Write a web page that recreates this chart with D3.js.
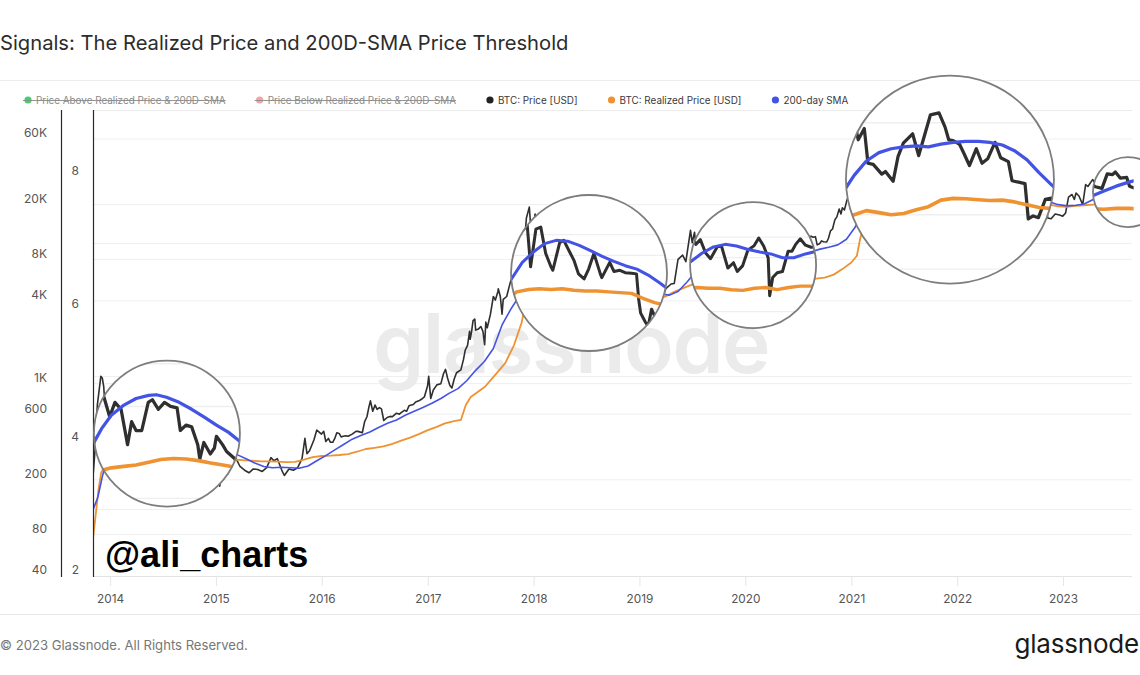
<!DOCTYPE html>
<html><head><meta charset="utf-8">
<script src="https://cdn.jsdelivr.net/npm/d3@7"></script>
<style>
html,body{margin:0;padding:0;background:#fff;}
svg{display:block;font-family:Inter,"Noto Sans",sans-serif;}
</style></head><body>
<svg id="chart" width="1140" height="675"></svg>
<script>
// ---------------- DATA ----------------
const priceData = [
["2013-11-03",210],["2013-11-10",330],["2013-11-18",700],["2013-11-30",1130],["2013-12-05",1100],["2013-12-10",950],["2013-12-18",520],["2013-12-25",680],
["2014-01-05",950],["2014-01-15",850],["2014-01-31",800],["2014-02-10",680],["2014-02-25",530],["2014-03-10",630],["2014-03-25",580],["2014-04-10",380],["2014-04-20",500],["2014-05-01",450],["2014-05-15",450],["2014-05-31",630],["2014-06-10",650],["2014-06-25",580],["2014-07-10",630],["2014-07-25",600],["2014-08-10",590],["2014-08-18",450],["2014-09-01",480],["2014-09-15",470],["2014-09-30",380],["2014-10-05",320],["2014-10-15",390],["2014-10-31",340],["2014-11-10",365],["2014-11-15",420],["2014-11-30",380],["2014-12-10",350],["2014-12-31",320],
["2015-01-05",275],["2015-01-14",180],["2015-01-20",210],["2015-01-31",225],["2015-02-10",220],["2015-02-20",245],["2015-03-10",290],["2015-03-25",250],["2015-04-10",235],["2015-04-25",225],["2015-05-10",240],["2015-05-25",238],["2015-06-10",230],["2015-06-25",245],["2015-07-10",290],["2015-07-20",275],["2015-08-01",285],["2015-08-18",230],["2015-08-25",215],["2015-09-10",240],["2015-09-25",235],["2015-10-10",245],["2015-10-25",285],["2015-11-04",400],["2015-11-11",310],["2015-11-20",325],["2015-12-05",390],["2015-12-15",460],["2015-12-31",430],
["2016-01-08",450],["2016-01-15",380],["2016-01-24",400],["2016-01-31",375],["2016-02-08",375],["2016-02-15",400],["2016-02-22",440],["2016-03-01",435],["2016-03-08",410],["2016-03-15",415],["2016-03-24",418],["2016-04-01",415],["2016-04-15",430],["2016-04-28",450],["2016-05-05",450],["2016-05-20",440],["2016-05-28",530],["2016-06-05",575],["2016-06-12",680],["2016-06-17",750],["2016-06-25",630],["2016-07-03",700],["2016-07-10",650],["2016-07-18",670],["2016-07-25",655],["2016-08-02",540],["2016-08-15",570],["2016-08-25",578],["2016-09-01",575],["2016-09-15",610],["2016-09-25",600],["2016-10-01",615],["2016-10-12",640],["2016-10-20",630],["2016-10-28",690],["2016-11-05",700],["2016-11-12",705],["2016-11-20",735],["2016-12-01",750],["2016-12-10",770],["2016-12-20",800],["2016-12-31",960],
["2017-01-04",1130],["2017-01-11",780],["2017-01-20",900],["2017-02-01",980],["2017-02-15",1000],["2017-02-24",1180],["2017-03-03",1270],["2017-03-10",1100],["2017-03-18",970],["2017-03-25",930],["2017-04-02",1080],["2017-04-10",1200],["2017-04-25",1260],["2017-05-04",1500],["2017-05-10",1750],["2017-05-18",1900],["2017-05-25",2400],["2017-05-27",2100],["2017-06-01",2400],["2017-06-06",2870],["2017-06-12",2950],["2017-06-15",2450],["2017-06-25",2500],["2017-07-03",2600],["2017-07-10",2400],["2017-07-16",1920],["2017-07-20",2800],["2017-07-25",2550],["2017-08-05",3200],["2017-08-15",4300],["2017-08-22",4050],["2017-08-31",4700],["2017-09-01",4900],["2017-09-08",4300],["2017-09-14",3200],["2017-09-18",4100],["2017-09-30",4300],["2017-10-12",5400],["2017-10-20",6000],["2017-11-01",6700],["2017-11-08",7400],["2017-11-12",5900],["2017-11-20",8000],["2017-11-29",9900],["2017-12-07",16000],["2017-12-17",19200],["2017-12-22",13800],["2017-12-31",13800],
["2018-01-06",17100],["2018-01-16",11000],["2018-01-28",11800],["2018-02-06",6900],["2018-02-20",11200],["2018-03-05",11500],["2018-03-18",8200],["2018-04-01",6900],["2018-04-06",6600],["2018-04-24",9400],["2018-05-05",9700],["2018-05-20",8400],["2018-06-01",7500],["2018-06-13",6300],["2018-06-28",5900],["2018-07-10",6700],["2018-07-24",8200],["2018-08-10",6300],["2018-08-14",6000],["2018-09-04",7300],["2018-09-15",6500],["2018-10-01",6600],["2018-10-15",6400],["2018-11-01",6350],["2018-11-14",6300],["2018-11-20",4500],["2018-11-25",3800],["2018-12-07",3400],["2018-12-15",3200],["2018-12-24",4000],["2018-12-31",3700],
["2019-01-15",3600],["2019-02-01",3450],["2019-02-15",3600],["2019-03-01",3800],["2019-03-15",3900],["2019-04-02",4900],["2019-04-20",5300],["2019-05-01",5350],["2019-05-14",8000],["2019-05-30",8600],["2019-06-10",7700],["2019-06-26",13000],["2019-07-02",10600],["2019-07-10",12600],["2019-07-16",9400],["2019-08-01",10400],["2019-08-06",11800],["2019-08-29",9500],["2019-09-10",10100],["2019-09-24",8500],["2019-10-07",7900],["2019-10-25",9200],["2019-11-05",9300],["2019-11-22",7000],["2019-12-07",7500],["2019-12-17",6700],["2019-12-31",7200],
["2020-01-14",8800],["2020-01-31",9350],["2020-02-12",10300],["2020-02-25",9300],["2020-03-08",8000],["2020-03-12",4900],["2020-03-20",6200],["2020-04-01",6600],["2020-04-15",6700],["2020-04-30",8700],["2020-05-10",8700],["2020-05-20",9500],["2020-06-01",10200],["2020-06-15",9400],["2020-06-30",9150],["2020-07-15",9200],["2020-07-28",11000],["2020-08-08",11600],["2020-08-15",11800],["2020-08-22",11600],["2020-08-30",11700],["2020-09-05",10200],["2020-09-13",10400],["2020-09-20",10900],["2020-09-27",10750],["2020-10-08",10700],["2020-10-14",11400],["2020-10-21",12900],["2020-10-28",13300],["2020-11-05",15500],["2020-11-12",16300],["2020-11-20",18600],["2020-11-26",17100],["2020-12-01",19000],["2020-12-08",18300],["2020-12-16",21300],["2020-12-24",23700],["2020-12-31",29000],
["2021-01-08",40500],["2021-01-22",31500],["2021-02-01",34000],["2021-02-10",45000],["2021-02-21",57500],["2021-02-28",45200],["2021-03-13",61000],["2021-03-25",52000],["2021-04-14",63500],["2021-04-25",49000],["2021-05-10",56000],["2021-05-19",37000],["2021-06-01",36500],["2021-06-22",32500],["2021-07-01",33500],["2021-07-20",29800],["2021-08-01",40000],["2021-08-14",47000],["2021-09-06",52600],["2021-09-21",40500],["2021-10-01",48000],["2021-10-20",66000],["2021-11-10",67500],["2021-11-25",57000],["2021-12-04",49000],["2021-12-15",48500],["2021-12-31",46300],
["2022-01-10",41800],["2022-01-24",36000],["2022-02-10",44000],["2022-02-24",37000],["2022-03-10",39000],["2022-03-28",47500],["2022-04-11",39500],["2022-04-30",37700],["2022-05-09",30000],["2022-05-25",29500],["2022-06-10",29000],["2022-06-18",19000],["2022-06-30",19700],["2022-07-13",19300],["2022-07-30",24000],["2022-08-14",24400],["2022-08-31",20000],["2022-09-12",22400],["2022-09-20",19000],["2022-10-10",19300],["2022-10-26",20800],["2022-11-05",21300],["2022-11-09",16000],["2022-11-21",15800],["2022-12-05",17100],["2022-12-20",16800],["2022-12-31",16500],
["2023-01-10",17400],["2023-01-20",22700],["2023-02-01",23700],["2023-02-09",21800],["2023-02-15",24300],["2023-02-25",23100],["2023-03-10",20000],["2023-03-20",28000],["2023-03-28",27100],["2023-04-13",30400],["2023-04-25",28300],["2023-05-10",27600],["2023-05-25",26300],["2023-06-10",25800],["2023-06-23",30700],["2023-07-06",30400],["2023-07-13",31400],["2023-07-25",29200],["2023-08-10",29400],["2023-08-17",26500],["2023-08-27",26000]
];
const realizedData = [
["2013-11-03",75],["2013-11-12",110],["2013-11-22",170],["2013-12-01",225],["2013-12-12",250],["2014-01-01",262],["2014-02-01",278],["2014-03-01",288],["2014-04-01",293],["2014-05-01",298],["2014-06-01",308],["2014-07-01",318],["2014-08-01",322],["2014-09-01",320],["2014-10-01",314],["2014-11-01",305],["2014-12-01",298],
["2015-01-01",290],["2015-02-01",284],["2015-03-01",281],["2015-04-01",278],["2015-05-01",276],["2015-06-01",273],["2015-07-01",272],["2015-08-01",271],["2015-09-01",269],["2015-10-01",270],["2015-11-01",280],["2015-12-01",292],
["2016-01-01",298],["2016-02-01",300],["2016-03-01",303],["2016-04-01",308],["2016-05-01",320],["2016-06-01",335],["2016-07-01",342],["2016-08-01",350],["2016-09-01",365],["2016-10-01",385],["2016-11-01",405],["2016-12-01",430],
["2017-01-01",460],["2017-02-01",485],["2017-03-01",515],["2017-04-01",535],["2017-04-25",545],["2017-05-12",700],["2017-05-29",800],["2017-07-17",950],["2017-08-20",1150],["2017-09-25",1410],["2017-10-25",1900],["2017-11-20",2750],["2017-12-14",4700],["2017-12-31",5000],
["2018-02-01",5150],["2018-03-01",5200],["2018-04-01",5150],["2018-05-01",5200],["2018-06-01",5100],["2018-07-01",5050],["2018-08-01",5050],["2018-09-01",5000],["2018-10-01",4950],["2018-11-01",4900],["2018-12-01",4600],
["2019-01-01",4350],["2019-02-01",4200],["2019-03-01",4180],["2019-04-01",4300],["2019-05-01",4650],["2019-06-01",4950],["2019-07-01",5250],["2019-08-01",5400],["2019-09-01",5450],["2019-10-01",5400],["2019-11-01",5400],["2019-12-01",5300],
["2020-01-01",5250],["2020-02-01",5400],["2020-03-01",5450],["2020-04-01",5300],["2020-05-01",5450],["2020-06-01",5550],["2020-07-01",5550],["2020-08-01",5750],["2020-09-01",5800],["2020-10-01",5900],["2020-11-01",6200],["2020-12-01",6800],
["2021-01-01",7600],["2021-01-20",8500],["2021-02-01",11500],["2021-02-20",15500],["2021-03-15",18500],["2021-04-15",20000],["2021-05-15",21000],["2021-06-15",20500],["2021-07-15",20000],["2021-08-15",20300],["2021-09-15",21200],["2021-10-15",22000],["2021-11-15",23800],["2021-12-15",24300],
["2022-01-15",24200],["2022-02-15",23900],["2022-03-15",23700],["2022-04-15",23800],["2022-05-15",23300],["2022-06-15",22500],["2022-07-15",21800],["2022-08-15",21500],["2022-09-15",21100],["2022-10-15",20700],["2022-11-15",20000],["2022-12-15",19400],
["2023-01-15",19300],["2023-02-15",19600],["2023-03-15",19800],["2023-04-15",20000],["2023-05-15",20200],["2023-06-15",20100],["2023-07-15",20300],["2023-08-15",20300],["2023-08-27",20250]
];
const smaData = [
["2013-11-03",121],["2013-11-20",150],["2013-12-05",210],["2013-12-20",280],["2014-01-05",340],["2014-01-20",400],["2014-02-05",460],["2014-03-01",540],["2014-04-01",610],["2014-05-01",660],["2014-06-01",685],["2014-06-20",690],["2014-07-15",670],["2014-08-15",630],["2014-09-15",580],["2014-10-15",530],["2014-11-15",480],["2014-12-15",440],
["2015-01-15",390],["2015-02-15",340],["2015-03-15",305],["2015-04-15",285],["2015-05-15",265],["2015-06-15",250],["2015-07-15",245],["2015-08-15",247],["2015-09-15",245],["2015-10-15",243],["2015-11-15",252],["2015-12-15",275],
["2016-01-15",300],["2016-02-15",330],["2016-03-15",360],["2016-04-15",395],["2016-05-15",420],["2016-06-15",445],["2016-07-15",480],["2016-08-15",515],["2016-09-15",545],["2016-10-15",590],["2016-11-15",630],["2016-12-15",670],
["2017-01-15",720],["2017-02-15",780],["2017-03-15",850],["2017-04-15",920],["2017-05-15",1050],["2017-06-15",1250],["2017-07-15",1450],["2017-08-15",1800],["2017-09-15",2700],["2017-10-15",3500],["2017-11-15",4400],["2017-12-15",5800],
["2018-01-15",7300],["2018-02-15",8400],["2018-03-15",9300],["2018-04-15",9700],["2018-05-15",9600],["2018-06-15",9100],["2018-07-15",8500],["2018-08-15",7900],["2018-09-15",7400],["2018-10-15",7000],["2018-11-15",6700],["2018-12-15",6200],
["2019-01-15",5600],["2019-02-15",5000],["2019-03-15",4500],["2019-04-15",4400],["2019-05-15",4700],["2019-06-15",5500],["2019-07-15",6600],["2019-08-15",7600],["2019-09-15",8500],["2019-10-15",9200],["2019-11-15",9500],["2019-12-15",9300],
["2020-01-15",8900],["2020-02-15",8600],["2020-03-15",8400],["2020-04-15",8000],["2020-05-15",8000],["2020-06-15",8400],["2020-07-15",8700],["2020-08-15",9100],["2020-09-15",9500],["2020-10-15",9800],["2020-11-15",10200],["2020-12-15",11200],
["2021-01-15",13800],["2021-02-15",19500],["2021-03-15",25500],["2021-04-15",32000],["2021-05-15",38000],["2021-06-15",42000],["2021-07-15",44000],["2021-08-15",45000],["2021-09-15",45500],["2021-10-15",45000],["2021-11-15",46500],["2021-12-15",47500],
["2022-01-15",48000],["2022-02-15",48000],["2022-03-15",47500],["2022-04-15",46000],["2022-05-15",43000],["2022-06-15",38500],["2022-07-15",33000],["2022-08-15",28500],["2022-09-15",25000],["2022-10-15",22500],["2022-11-15",21000],["2022-12-15",20000],
["2023-01-15",19600],["2023-02-15",19800],["2023-03-15",20200],["2023-04-15",21800],["2023-05-15",23500],["2023-06-15",25000],["2023-07-15",26500],["2023-08-15",27800],["2023-08-27",28200]
];
const priceTickValues = [40, 80, 200, 600, 1000, 4000, 8000, 20000, 60000];
const priceTickLabels = ["40", "80", "200", "600", "1K", "4K", "8K", "20K", "60K"];
const signalTickValues = [2, 4, 6, 8];
const signalGridValues = [3, 5, 7];
const yearTicks = ["2014","2015","2016","2017","2018","2019","2020","2021","2022","2023"];
const legendLabels = ["Price Above Realized Price & 200D-SMA", "Price Below Realized Price & 200D-SMA", "BTC: Price [USD]", "BTC: Realized Price [USD]", "200-day SMA"];
const legendHidden = [true, true, false, false, false];
// loupe (magnifier) annotation centres in data space
const loupeDates  = ["2014-07-16", "2018-07-11", "2020-01-28", "2021-12-07", "2023-08-13"];
const loupePrices = [434, 6370, 7280, 30450, 24700];

// ---------------- STYLE / LAYOUT ----------------
const legendColors = ["#3fd16c", "#f2a2aa", "#222222", "#ef9232", "#4353e4"];
const loupeRadii = [73, 78, 63, 104, 35];
const loupeZoom = [1.4, 1.3, 1.3, 1.4, 1.4];
const C = {price:"#2f2f2f", realized:"#ef9232", sma:"#4353e4"};
const plot = {left:93, right:1132, top:110, bottom:576};

const svg = d3.select("#chart");
const parse = d3.utcParse("%Y-%m-%d");
const x = d3.scaleUtc().domain([parse("2013-11-03"), parse("2023-08-27")]).range([plot.left, plot.right]);
const y = d3.scaleLog().domain([40, 60000]).range([plot.bottom, 139]);
const y2 = d3.scaleLinear().domain([2, 8]).range([plot.bottom, 177]);

// title
svg.append("text").attr("x", 0).attr("y", 50).attr("font-size", 20.2).attr("fill", "#2c2c2c")
  .text("Signals: The Realized Price and 200D-SMA Price Threshold");
svg.append("line").attr("x1", 0).attr("x2", 1140).attr("y1", 80.5).attr("y2", 80.5).attr("stroke", "#ececec");

// legend
const leg = svg.append("g").attr("font-size", 9.9);
let lx = 28;
legendLabels.forEach((lab, i) => {
  const gi = leg.append("g");
  gi.append("circle").attr("cx", lx).attr("cy", 100).attr("r", 3.6).attr("fill", legendColors[i]);
  const t = gi.append("text").attr("x", lx + 8).attr("y", 103.5).text(lab)
    .attr("fill", legendHidden[i] ? "#8a8a8a" : "#3a3a3a");
  const w = t.node().getComputedTextLength();
  if (legendHidden[i]) {
    gi.append("line").attr("x1", lx - 5).attr("x2", lx + 8 + w).attr("y1", 100.5).attr("y2", 100.5)
      .attr("stroke", "#8a8a8a").attr("stroke-width", 0.9);
  }
  lx += 8 + w + 34;
});

// defs
const defs = svg.append("defs");
defs.append("clipPath").attr("id", "plotClip").append("rect")
  .attr("x", plot.left).attr("y", plot.top).attr("width", plot.right - plot.left).attr("height", plot.bottom - plot.top);

const lineGen = d3.line().x(d => x(parse(d[0]))).y(d => y(d[1])).curve(d3.curveLinear);

function drawContent(g, widthScale, withMark) {
  const grid = g.append("g").attr("stroke", "#efefef").attr("stroke-width", 1);
  grid.selectAll("line.p").data(priceTickValues.slice(1)).join("line").attr("class", "p")
    .attr("x1", plot.left).attr("x2", plot.right).attr("y1", d => y(d)).attr("y2", d => y(d));
  grid.selectAll("line.s").data(signalGridValues).join("line").attr("class", "s")
    .attr("x1", plot.left).attr("x2", plot.right).attr("y1", d => y2(d)).attr("y2", d => y2(d));
  if (withMark) {
    g.append("text").attr("x", 571).attr("y", 373).attr("text-anchor", "middle")
      .attr("font-size", 82).attr("font-weight", 600).attr("letter-spacing", -1.5).attr("fill", "#ebebeb").text("glassnode");
  }
  const lines = g.append("g").attr("clip-path", "url(#plotClip)").attr("fill", "none")
    .attr("stroke-linejoin", "round").attr("stroke-linecap", "round");
  lines.append("path").datum(priceData).attr("d", lineGen).attr("stroke", C.price).attr("stroke-width", 1.6 * widthScale);
  lines.append("path").datum(realizedData).attr("d", lineGen).attr("stroke", C.realized).attr("stroke-width", 1.8 * widthScale);
  lines.append("path").datum(smaData).attr("d", lineGen).attr("stroke", C.sma).attr("stroke-width", 1.6 * widthScale);
}

// top border of plot
svg.append("line").attr("x1", plot.left).attr("x2", plot.right).attr("y1", plot.top + 0.5).attr("y2", plot.top + 0.5).attr("stroke", "#ececec");

const base = svg.append("g");
drawContent(base, 1, true);

// x axis
const xAxis = d3.axisBottom(x).tickValues(yearTicks.map(d => parse(d + "-01-01")))
  .tickFormat(d3.utcFormat("%Y")).tickSize(10).tickPadding(9);
const gx = svg.append("g").attr("transform", `translate(0,${plot.bottom})`).call(xAxis);
gx.select(".domain").attr("stroke", "#e3e3e3").attr("d", `M${plot.left},0.5H${plot.right}`);
gx.selectAll(".tick line").attr("stroke", "#e6e6e6");
gx.selectAll(".tick text").attr("font-size", 11.8).attr("fill", "#555").attr("font-family", "Inter, sans-serif");

// price axis (log)
const yAxis = d3.axisLeft(y).tickValues(priceTickValues).tickFormat((d, i) => priceTickLabels[i]).tickSize(0).tickPadding(14);
const gy = svg.append("g").attr("transform", "translate(61,0)").call(yAxis);
gy.select(".domain").remove();
gy.selectAll(".tick text").attr("font-size", 12).attr("fill", "#555").attr("font-family", "Inter, sans-serif").attr("transform", "translate(0,-6)");

// signal axis (linear)
const y2Axis = d3.axisLeft(y2).tickValues(signalTickValues).tickFormat(d3.format("d")).tickSize(0).tickPadding(14);
const gy2 = svg.append("g").attr("transform", `translate(${plot.left},0)`).call(y2Axis);
gy2.select(".domain").remove();
gy2.selectAll(".tick text").attr("font-size", 12).attr("fill", "#555").attr("font-family", "Inter, sans-serif").attr("transform", "translate(0,-6)");

svg.append("line").attr("x1", 61.5).attr("x2", 61.5).attr("y1", plot.top).attr("y2", plot.bottom + 1).attr("stroke", "#2a2a2a").attr("stroke-width", 1.2);
svg.append("line").attr("x1", plot.left + 0.5).attr("x2", plot.left + 0.5).attr("y1", plot.top).attr("y2", plot.bottom + 1).attr("stroke", "#2a2a2a").attr("stroke-width", 1.2);

// loupes (magnified circular insets)
loupeDates.forEach((ds, i) => {
  const cx = x(parse(ds)), cy = y(loupePrices[i]), r = loupeRadii[i], m = loupeZoom[i];
  defs.append("clipPath").attr("id", "loupe" + i).append("circle").attr("cx", cx).attr("cy", cy).attr("r", r);
  const lg = svg.append("g").attr("clip-path", `url(#loupe${i})`);
  lg.append("circle").attr("cx", cx).attr("cy", cy).attr("r", r).attr("fill", "#fff");
  const inner = lg.append("g").attr("transform", `translate(${cx},${cy}) scale(${m}) translate(${-cx},${-cy})`);
  drawContent(inner, 1.45, false);
  svg.append("circle").attr("cx", cx).attr("cy", cy).attr("r", r).attr("fill", "none")
    .attr("stroke", "#7d7d7d").attr("stroke-width", 1.8);
});

// handle
svg.append("text").attr("x", 105).attr("y", 567).attr("font-family", "'Liberation Sans', Arial, sans-serif")
  .attr("font-weight", 700).attr("font-size", 36).attr("fill", "#000").text("@ali_charts");

// footer
svg.append("line").attr("x1", 0).attr("x2", 1140).attr("y1", 614.5).attr("y2", 614.5).attr("stroke", "#e8e8e8");
svg.append("text").attr("x", 0).attr("y", 650).attr("font-size", 13.1).attr("fill", "#777")
  .text("© 2023 Glassnode. All Rights Reserved.");
svg.append("text").attr("x", 1139).attr("y", 653).attr("text-anchor", "end").attr("font-size", 26)
  .attr("fill", "#1a1a1a").attr("letter-spacing", -0.2).text("glassnode");
</script>
</body></html>
